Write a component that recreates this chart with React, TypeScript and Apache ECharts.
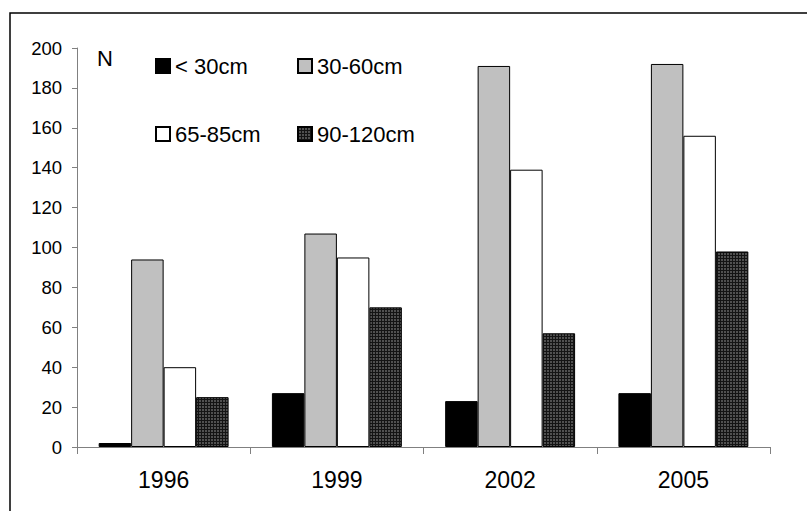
import React, { useEffect, useRef } from "react";
import * as echarts from "echarts";

const years = ["1996", "1999", "2002", "2005"];
const seriesNames = ["< 30cm", "30-60cm", "65-85cm", "90-120cm"];
const under30 = [2, 27, 23, 27];
const s30to60 = [94, 107, 191, 192];
const s65to85 = [40, 95, 139, 156];
const s90to120 = [25, 70, 57, 98];
const yTicks = { min: 0, max: 200, interval: 20 };

function makePattern() {
  const c = document.createElement("canvas");
  c.width = 3;
  c.height = 3;
  const ctx = c.getContext("2d")!;
  ctx.fillStyle = "#141414";
  ctx.fillRect(0, 0, 3, 3);
  ctx.fillStyle = "#505050";
  ctx.fillRect(1, 1, 2, 2);
  return c;
}

export default function App() {
  const ref = useRef<HTMLDivElement>(null);
  useEffect(() => {
    if (!ref.current) return;
    const chart = echarts.init(ref.current, undefined, { renderer: "svg" });
    const pat = makePattern();
    const font = "'Liberation Sans', Arial, sans-serif";
    const colors: any[] = [
      "#000000",
      "#c0c0c0",
      "#ffffff",
      { image: pat, repeat: "repeat", imageWidth: 3, imageHeight: 3 },
    ];
    const values = [under30, s30to60, s65to85, s90to120];
    const legendPos = [
      { left: 155, top: 55 },
      { left: 297, top: 55 },
      { left: 155, top: 123 },
      { left: 297, top: 123 },
    ];
    chart.setOption({
      animation: false,
      backgroundColor: "#ffffff",
      grid: { left: 77, right: 37, top: 48, bottom: 64, containLabel: false },
      legend: seriesNames.map((n, i) => ({
        data: [n],
        left: legendPos[i].left,
        top: legendPos[i].top,
        itemWidth: 14,
        itemHeight: 14,
        itemGap: 5,
        icon: "rect",
        selectedMode: false,
        textStyle: { fontFamily: font, fontSize: 22, color: "#000", padding: [0, 0, 0, 0] },
        padding: 0,
      })),
      xAxis: {
        type: "category",
        data: years,
        axisLine: { lineStyle: { color: "#808080", width: 1 } },
        axisTick: { show: true, length: 7, lineStyle: { color: "#808080" } },
        axisLabel: { fontFamily: font, fontSize: 23, color: "#000", margin: 21 },
      },
      yAxis: {
        type: "value",
        min: yTicks.min,
        max: yTicks.max,
        interval: yTicks.interval,
        splitLine: { show: false },
        axisLine: { show: true, lineStyle: { color: "#808080", width: 1 } },
        axisTick: { show: true, length: 5, lineStyle: { color: "#808080" } },
        axisLabel: { fontFamily: font, fontSize: 18.5, color: "#000", margin: 15 },
      },
      graphic: [
        {
          type: "rect",
          shape: { x: 10, y: 13, width: 1000, height: 700 },
          style: { fill: "none", stroke: "#000", lineWidth: 1.5 },
          silent: true,
        },
        {
          type: "text",
          x: 97,
          y: 47,
          style: {
            text: "N",
            font: "22px 'Liberation Sans', Arial, sans-serif",
            fontFamily: font,
            fontSize: 22,
            fill: "#000",
          },
        },
      ],
      series: seriesNames.map((n, i) => ({
        name: n,
        type: "bar",
        data: values[i],
        barGap: "0%",
        barCategoryGap: "25%",
        itemStyle: { color: colors[i], borderColor: "#000", borderWidth: 1 },
      })),
    });
    return () => chart.dispose();
  }, []);
  return (
    <div
      ref={ref}
      style={{ position: "absolute", left: 0, top: 0, width: 807, height: 511 }}
    />
  );
}
